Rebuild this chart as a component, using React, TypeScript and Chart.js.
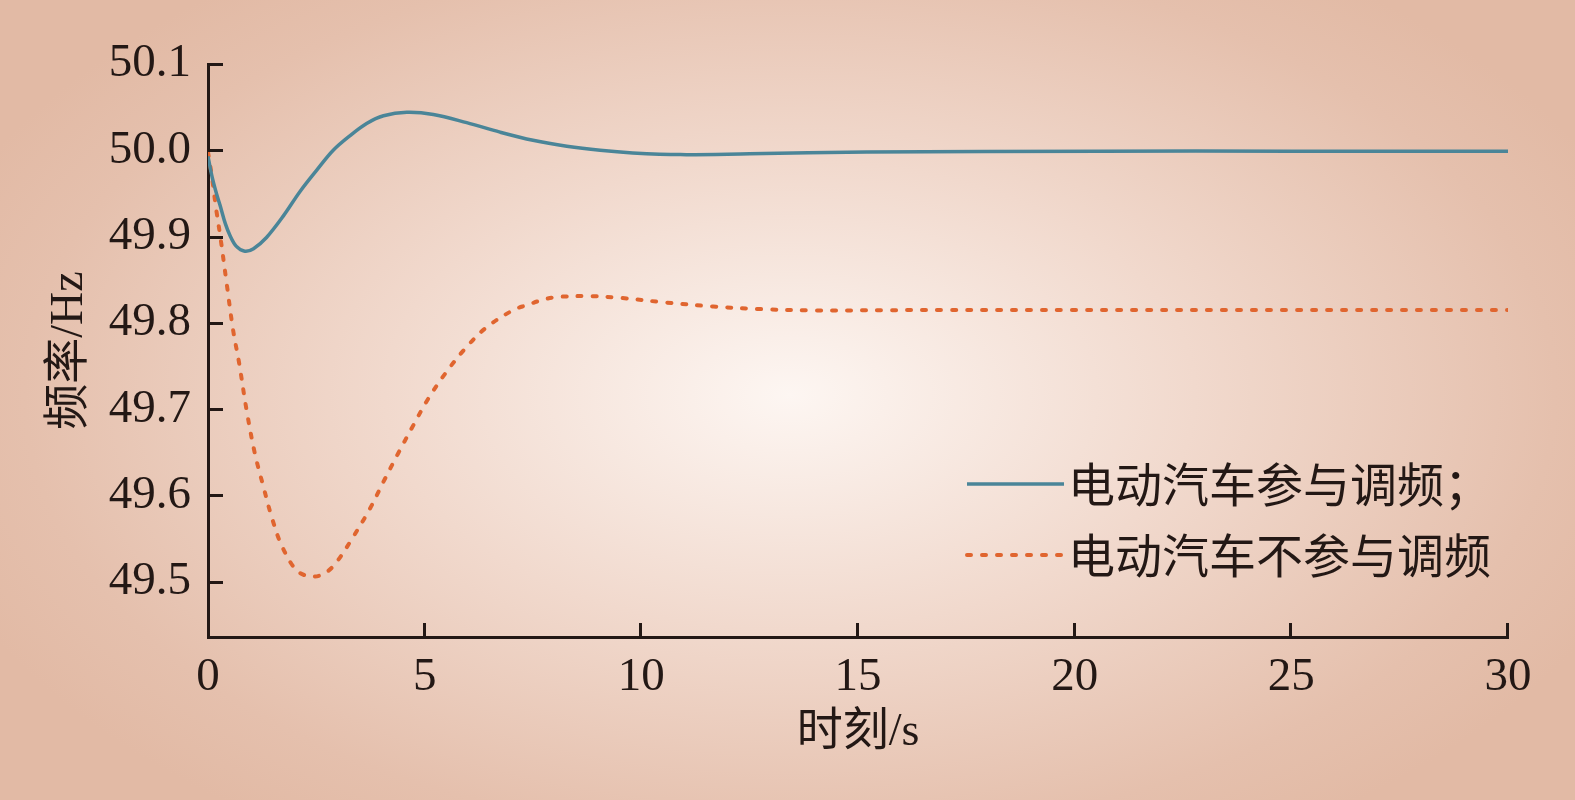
import React, { useEffect, useRef } from "react";
import { Chart, registerables } from "chart.js";

Chart.register(...registerables);

// ---- data ----
const xTicks = [0, 5, 10, 15, 20, 25, 30];
const yTicks = [49.5, 49.6, 49.7, 49.8, 49.9, 50.0, 50.1];

const evOnTime = [0, 0.1, 0.2, 0.28, 0.4, 0.51, 0.65, 0.85, 1.05, 1.35, 1.74, 2.12, 2.51, 2.89, 3.28, 3.66, 4.05, 4.59, 5.2, 5.97, 6.74, 7.5, 8.28, 9.05, 9.8, 10.9, 12.5, 15.2, 20.6, 25, 30];
const evOnFreq = [49.993, 49.968, 49.949, 49.936, 49.915, 49.901, 49.889, 49.883, 49.886, 49.899, 49.924, 49.952, 49.977, 50.0, 50.017, 50.031, 50.04, 50.044, 50.0415, 50.032, 50.021, 50.0116, 50.0047, 50.0, 49.997, 49.995, 49.996, 49.998, 49.999, 49.999, 49.999];

const evOffTime = [0, 0.085, 0.185, 0.29, 0.43, 0.58, 0.72, 0.89, 1.08, 1.28, 1.47, 1.7, 2.05, 2.39, 2.7, 2.97, 3.35, 3.74, 4.05, 4.39, 4.74, 5.08, 5.47, 5.93, 6.43, 7.05, 7.35, 7.74, 8.05, 8.82, 9.5, 10.57, 11.66, 12.74, 14.05, 15.6, 17, 20, 25, 30];
const evOffFreq = [49.998, 49.971, 49.933, 49.898, 49.846, 49.7915, 49.753, 49.699, 49.649, 49.61, 49.575, 49.542, 49.513, 49.506, 49.51, 49.523, 49.552, 49.585, 49.616, 49.649, 49.6815, 49.712, 49.741, 49.77, 49.795, 49.815, 49.8205, 49.827, 49.83, 49.831, 49.829, 49.8236, 49.819, 49.816, 49.8144, 49.8147, 49.815, 49.815, 49.815, 49.815];

const seriesLabels = ["电动汽车参与调频；", "电动汽车不参与调频"];
const xTitle = "时刻/s";
const yTitle = "频率/Hz";

const AXIS = "#231815";
const TEAL = "#4a8598";
const ORANGE = "#e0652f";
const FONT = "'Liberation Serif', 'Noto Sans CJK SC', serif";

const bgPlugin = {
  id: "bg",
  beforeDraw(chart: any) {
    const { ctx, width, height } = chart;
    ctx.save();
    const cx = 790, cy = 395;
    ctx.translate(cx, cy);
    ctx.scale(1, 0.58);
    const g = ctx.createRadialGradient(0, 0, 0, 0, 0, 900);
    g.addColorStop(0, "#fdf6f2");
    g.addColorStop(0.45, "#f1d9cd");
    g.addColorStop(0.85, "#e5c0ad");
    g.addColorStop(1, "#e2baa5");
    ctx.fillStyle = g;
    ctx.fillRect(-cx, -cy / 0.58, width, height / 0.58);
    ctx.restore();
  },
};

const ticksPlugin = {
  id: "innerTicks",
  afterDraw(chart: any) {
    const { ctx, chartArea } = chart;
    const xs = chart.scales.x;
    const ys = chart.scales.y;
    ctx.save();
    ctx.strokeStyle = AXIS;
    ctx.lineWidth = 3;
    ctx.beginPath();
    xTicks.forEach((v) => {
      if (v === 0) return;
      const px = Math.round(xs.getPixelForValue(v)) - 0.5;
      ctx.moveTo(px, chartArea.bottom);
      ctx.lineTo(px, chartArea.bottom - 14);
    });
    yTicks.forEach((v) => {
      const py = Math.round(ys.getPixelForValue(v)) + 0.5;
      ctx.moveTo(chartArea.left, py);
      ctx.lineTo(chartArea.left + 15, py);
    });
    ctx.stroke();

    // legend
    const rows = [484, 555];
    chart.data.datasets.forEach((ds: any, i: number) => {
      const y = rows[i];
      ctx.save();
      ctx.strokeStyle = ds.borderColor;
      ctx.lineWidth = ds.borderWidth;
      ctx.lineCap = ds.borderCapStyle || "butt";
      ctx.setLineDash(ds.borderDash || []);
      ctx.beginPath();
      ctx.moveTo(967, y);
      ctx.lineTo(1064, y);
      ctx.stroke();
      ctx.restore();
      ctx.fillStyle = AXIS;
      ctx.font = "47px 'Noto Sans CJK SC'";
      ctx.textBaseline = "middle";
      ctx.textAlign = "left";
      ctx.fillText(ds.label, 1068, y);
    });
    ctx.restore();
  },
};

export default function App() {
  const ref = useRef<HTMLCanvasElement | null>(null);
  useEffect(() => {
    document.body.style.margin = "0";
    if (!ref.current) return;
    const chart = new Chart(ref.current, {
      type: "line",
      data: {
        datasets: [
          {
            label: seriesLabels[0],
            data: evOnTime.map((t, i) => ({ x: t, y: evOnFreq[i] })),
            borderColor: TEAL,
            borderWidth: 3.5,
            pointRadius: 0,
            tension: 0.35,
            fill: false,
          },
          {
            label: seriesLabels[1],
            data: evOffTime.map((t, i) => ({ x: t, y: evOffFreq[i] })),
            borderColor: ORANGE,
            borderWidth: 4,
            borderDash: [4, 11],
            borderCapStyle: "round",
            pointRadius: 0,
            tension: 0.35,
            fill: false,
          },
        ],
      },
      options: {
        animation: false,
        responsive: false,
        devicePixelRatio: 1,
        layout: { padding: { top: 64, right: 67, left: 0, bottom: 0 } },
        plugins: { legend: { display: false }, tooltip: { enabled: false } },
        scales: {
          x: {
            type: "linear",
            min: 0,
            max: 30,
            afterBuildTicks: (s: any) => {
              s.ticks = xTicks.map((v) => ({ value: v }));
            },
            afterFit: (s: any) => {
              s.height = 163;
            },
            grid: { display: true, drawOnChartArea: false, drawTicks: false },
            border: { display: true, color: AXIS, width: 3 },
            ticks: {
              color: AXIS,
              font: { family: FONT, size: 47 },
              padding: 12,
              maxRotation: 0,
              autoSkip: false,
              callback: (v: any) => String(v),
            },
            title: {
              display: true,
              text: xTitle,
              color: AXIS,
              font: { family: FONT, size: 46 },
              padding: { top: 0, bottom: 39 },
            },
          },
          y: {
            type: "linear",
            min: 49.436,
            max: 50.1,
            afterBuildTicks: (s: any) => {
              s.ticks = yTicks.map((v) => ({ value: v }));
            },
            afterFit: (s: any) => {
              s.width = 208;
            },
            grid: { display: true, drawOnChartArea: false, drawTicks: false },
            border: { display: true, color: AXIS, width: 3 },
            ticks: {
              color: AXIS,
              font: { family: FONT, size: 47 },
              padding: 17,
              autoSkip: false,
              callback: (v: any) => Number(v).toFixed(1),
            },
            title: {
              display: true,
              text: yTitle,
              color: AXIS,
              font: { family: FONT, size: 46 },
              padding: { top: 42, bottom: 0 },
            },
          },
        },
      },
      plugins: [bgPlugin, ticksPlugin],
    });
    return () => chart.destroy();
  }, []);
  return <canvas ref={ref} width={1575} height={800} style={{ display: "block", width: 1575, height: 800 }} />;
}
